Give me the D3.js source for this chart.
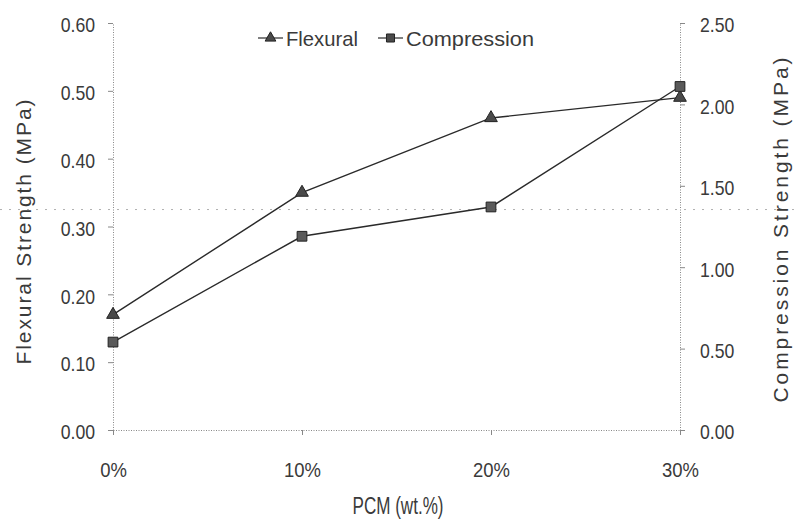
<!DOCTYPE html>
<html><head><meta charset="utf-8">
<script src="https://cdn.jsdelivr.net/npm/d3@7"></script>
<style>
body{margin:0;background:#fff;}
text{font-family:"Liberation Sans","Arial",sans-serif;fill:#3a3a3a;}
</style></head>
<body><svg id="c" width="795" height="525"></svg>
<script>
const categories = ["0%", "10%", "20%", "30%"];
const flexural = [0.17, 0.35, 0.46, 0.49];
const compression = [0.54, 1.19, 1.37, 2.11];
const leftTicks = [0, 0.1, 0.2, 0.3, 0.4, 0.5, 0.6];
const rightTicks = [0, 0.5, 1.0, 1.5, 2.0, 2.5];
const refLine = [0.325];

const svg = d3.select("#c");
const x = d3.scalePoint().domain(categories).range([113, 680]).padding(0);
const yL = d3.scaleLinear().domain([0, 0.6]).range([430, 23]);
const yR = d3.scaleLinear().domain([0, 2.5]).range([430, 23]);

function squeeze(sel, f){
  sel.each(function(){
    const l = this.getComputedTextLength();
    d3.select(this).attr("textLength", l * f).attr("lengthAdjust", "spacingAndGlyphs");
  });
}

svg.selectAll(".ref").data(refLine).enter().append("line")
  .attr("x1", 0).attr("x2", 795).attr("y1", d => yL(d)).attr("y2", d => yL(d))
  .attr("stroke", "#b0b0b0").attr("stroke-width", 1).attr("stroke-dasharray", "2,7");

function styleAxis(g){
  g.select(".domain").attr("stroke", "#888").attr("stroke-dasharray", "1,1.5");
  g.selectAll(".tick line").attr("stroke", "#888");
  g.selectAll(".tick text").style("font-size", "21px").attr("fill", "#3a3a3a");
}

const gl = svg.append("g").attr("transform", "translate(113,0)")
  .call(d3.axisLeft(yL).tickValues(leftTicks).tickFormat(d3.format(".2f")).tickSize(5).tickSizeOuter(0).tickPadding(13))
  .call(styleAxis);
gl.selectAll(".tick text").attr("dy", "0.42em");
squeeze(gl.selectAll(".tick text"), 0.84);

const gr = svg.append("g").attr("transform", "translate(680,0)")
  .call(d3.axisRight(yR).tickValues(rightTicks).tickFormat(d3.format(".2f")).tickSize(5).tickSizeOuter(0).tickPadding(15))
  .call(styleAxis);
gr.selectAll(".tick text").attr("dy", "0.42em");
squeeze(gr.selectAll(".tick text"), 0.84);

const gb = svg.append("g").attr("transform", "translate(0,430)")
  .call(d3.axisBottom(x).tickSize(5).tickSizeOuter(0).tickPadding(27))
  .call(styleAxis);
squeeze(gb.selectAll(".tick text"), 0.88);

// titles
svg.append("text").attr("x", 398).attr("y", 514).attr("text-anchor", "middle")
  .style("font-size", "23px").text("PCM (wt.%)")
  .attr("textLength", 91).attr("lengthAdjust", "spacingAndGlyphs");
svg.append("text").attr("transform", "translate(31,232) rotate(-90)").attr("text-anchor", "middle")
  .style("font-size", "21px").text("Flexural Strength (MPa)")
  .attr("textLength", 265).attr("lengthAdjust", "spacing");
svg.append("text").attr("transform", "translate(788,230) rotate(-90)").attr("text-anchor", "middle")
  .style("font-size", "21px").text("Compression Strength (MPa)")
  .attr("textLength", 345).attr("lengthAdjust", "spacing");

const line = s => d3.line().x((d, i) => x(categories[i])).y(d => s(d));
svg.append("path").datum(flexural).attr("d", line(yL)).attr("fill", "none").attr("stroke", "#2a2a2a").attr("stroke-width", 1.4);
svg.append("path").datum(compression).attr("d", line(yR)).attr("fill", "none").attr("stroke", "#2a2a2a").attr("stroke-width", 1.4);

const tri = d3.symbol().type(d3.symbolTriangle).size(70);
const sq = d3.symbol().type(d3.symbolSquare).size(95);
svg.selectAll(".tri").data(flexural).enter().append("path")
  .attr("d", tri).attr("transform", (d, i) => `translate(${x(categories[i])},${yL(d)})`)
  .attr("fill", "#4a4a4a").attr("stroke", "#222").attr("stroke-width", 1);
svg.selectAll(".sq").data(compression).enter().append("path")
  .attr("d", sq).attr("transform", (d, i) => `translate(${x(categories[i])},${yR(d)})`)
  .attr("fill", "#5a5a5a").attr("stroke", "#222").attr("stroke-width", 1);

// legend
const leg = [{name: "Flexural", x: 258, w: 72}, {name: "Compression", x: 378, w: 128}];
const lg = svg.selectAll(".leg").data(leg).enter().append("g").attr("transform", d => `translate(${d.x},38)`);
lg.append("line").attr("x1", 0).attr("x2", 25).attr("stroke", "#2a2a2a").attr("stroke-width", 1.2);
lg.append("path").attr("d", d => d.name === "Flexural" ? d3.symbol().type(d3.symbolTriangle).size(50)() : d3.symbol().type(d3.symbolSquare).size(65)())
  .attr("transform", "translate(12.5,0)").attr("fill", "#4a4a4a").attr("stroke", "#222");
lg.append("text").attr("x", 28).attr("y", 8).style("font-size", "21px").text(d => d.name)
  .attr("textLength", d => d.w).attr("lengthAdjust", "spacingAndGlyphs");
</script></body></html>
